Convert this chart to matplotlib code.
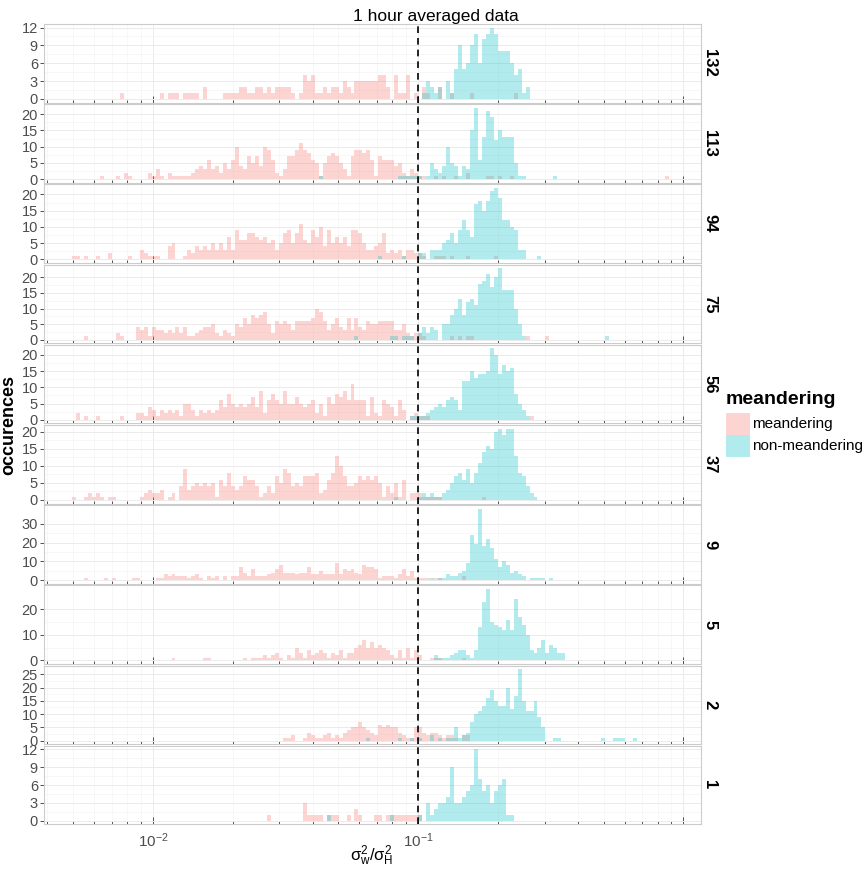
import numpy as np
import matplotlib
matplotlib.use('Agg')
import matplotlib.pyplot as plt
from matplotlib.patches import Rectangle
from matplotlib.ticker import LogLocator, NullFormatter

plt.rcParams['font.family'] = ['Liberation Sans', 'DejaVu Sans']
plt.rcParams['mathtext.fontset'] = 'custom'
plt.rcParams['mathtext.rm'] = 'Liberation Sans'
plt.rcParams['mathtext.it'] = 'Liberation Sans'

W, H = 866, 869

# histogram bins: width 0.015 in log10, bin index j counted from x = 0.1
bin_w = 0.015
bin_ref = -1.0

panels = ['132', '113', '94', '75', '56', '37', '9', '5', '2', '1']
ystep = [3, 5, 5, 5, 5, 5, 10, 10, 5, 3]

# counts, stored as runs: (first bin index, counts...)
mea_132 = [(-75, [1,0,0,0,0,0,0,0,0,0,1,0,1,1,1,0,1,1,1,1,0,2,0,0,0,0,1,1,1,1,2,2,1,1,2,2,1,2,1,
                  2,2,2,2,1,0,1,4,3,4,1,1,2,1,2,2,1,3,2,1,3,3,3,3,3,3,4,4,2,0,4,1,1,4,0,1]),
           (0, [0,2,1,0,0,2,0,0,1,0,0,0,0,1,0,0,0,0,0,0,0,0,0,0,1])]
non_132 = [(1, [1,3,2,1,2,0,3,1,5,9,5,6,9,11,6,10,11,12,11,8,8,8,6,4,5,1,2])]

mea_113 = [(-80, [1,0,0,0,1,0,2,1,0,0,0,0,2,1,3,1,0,2,1,1,1,1,1]),
           (-57, [2,3,4,3,6,3,4,2,5,3,6,10,4,3,7,5,7,4,10,9,6,2,1,3,7,7,9,11,9,8,
                  6,5,1,5,7,8,7,5,3,1,7,9,9,8,9,6,1,7,6,6,6,4,5,2,1,3,2]),
           (0, [1,1,0,0,1,0,1,0,0,1,0,0,2,0,0,0,0,1,1,0,1,0,0,1]),
           (62, [1])]
non_113 = [(-25, [1]), (-5, [1,1,1,1,1]),
           (0, [1,0,1,5,3,2,4,10,5,4,1,4,3,15,22,6,13,21,19,12,15,13,13,13,5,1,
                1,0,0,0,0,0,0,0,1])]

mea_94 = [(-87, [1,1,0,1,0,0,1,0,0,2,0,0,0,0,1,0,0,3,2,1,1,1,0,0,4,5,0,0,
                 1,3,2,4,3,4,3,5,3,5,3,7,3,9,6,6,8,8,7,6,7,5,6,3,5,8,9,5,8,11,
                 6,5,9,7,10,4,9,5,7,5,7,4,9,9,8,5,3,3,4,5,8,2,3,2,3,1,3,3,2]),
          (0, [2,1,0,0,1,1,1,0,1,0,0,0,1,0,0,0,0,0,0,1])]
non_94 = [(-10, [1]), (-4, [1]),
          (0, [2,2,0,3,3,3,5,6,8,5,9,12,9,7,17,18,15,18,21,22,19,12,12,10,9,3,3,0,0,0,1])]

mea_75 = [(-84, [1]), (-76, [2,1]),
          (-71, [4,3,4,1,4,3,3,2,3,2,4,2,4,1,1,2,3,4,4,5,2,1,3,2,1,5,4,7,5,8,
                 7,8,9,5,2,6,5,6,5,3,6,6,6,6,7,10,9,6,3,5,7,4,3,7,3,7,4,3,6,5,
                 5,6,6,6,6,3,3,5,2,1,2]),
          (0, [2,1,0,0,0,0,0,0,1,0,1,0,1,1]), (27, [1]), (32, [1])]
non_75 = [(-16, [1]), (-7, [1,1,0,1,1,1]),
          (0, [2,4,2,4,3,0,5,5,8,10,13,8,12,13,11,18,19,21,17,20,23,16,16,16,10,5,1]),
          (47, [1])]

mea_56 = [(-86, [2,0,1,0,0,1]), (-75, [1]),
          (-71, [2,2,1,4,3,1,3,2,3,2,3,1,5,5,3,1,3,2,3,2,3,6,4,8,5,4,5,4,5,7,
                 4,9,2,6,8,6,5,9,5,5,7,5,4,5,6,2,5,1,7,5,8,7,9,6,11,6,6,6,1,
                 7,2,1,6,5,4,1,6,3,0,1,2]),
          (0, [1,1,1]), (28, [1])]
non_56 = [(-2, [1,1]),
          (0, [1,1,2,3,4,5,4,6,7,6,3,12,12,15,13,14,14,15,22,20,14,17,15,16,8,5,3,1])]

mea_37 = [(-87, [1,0,0,1,2,1,2,1,0,1,1]),
          (-70, [1,2,3,2,2,3,0,1,2,0,4,9,3,4,5,4,5,4,5,1,6,4,8,4,3,4,7,6,6,4,
                 1,2,4,2,7,5,9,8,4,5,4,7,7,7,8,2,3,6,8,13,10,7,4,4,5,7,6,7,6,7,
                 5,1,4,2,5,1,6,0,2,2]),
          (0, [2,1,1,1,1,1]), (16, [1])]
non_37 = [(-6, [1]),
          (0, [1,2,1,2,1,1,2,3,5,7,8,6,9,5,8,11,14,16,15,20,21,19,21,21,13,8,7,4,2,1])]

mea_9 = [(-84, [1]), (-79, [1]), (-77, [1]), (-72, [1,1]),
         (-66, [1,1,3,2,3,2,2,2,1,2,3,1,0,2,1,2,0,2,0,2,2,7,4,2,6,2,2,2,3,4,
                6,8,4,4,4,3,4,4,7,3,3,5,3,3,3,9,3,6,5,6,4,3,8,7,7,6,1,2,2,2,
                1,3,6,2,5,1]),
         (0, [1,1,1,0,1,1,0,0,0,0,0,2])]
non_9 = [(0, [0,0,0,1,0,1,1,3,2,2,4,5,9,24,19,38,18,22,17,11,7,10,8,4,5,3,2,0,1,1,1,1,0,1])]

mea_5 = [(-62, [1]), (-54, [1,1]), (-44, [1]),
         (-42, [1,1,1,2,1,2,3,1,0,2,1,5,3,1,4,2,3,4,3,1,3,2,4,1,3,3,5,6,8,5,
                7,5,6,5,4,2,1,4,1,5,1,4]),
         (0, [2,0,0,1,1,1,0,0,0,0,0,1])]
non_5 = [(4, [2,1,1,1,2,3,4,4,2,1,4,13,23,28,15,14,13,12,16,12,24,17,14,10,4,3,5,8,3,6,5,3,3])]

mea_2 = [(-34, [1,1,2,0,0,1,3,2,1,1,2,3,1,2,1,3,4,5,5,7,5,4,3,2,6,5,6,5,5,3,2,1,1,5]),
         (0, [5,3,2,3,3,2,1,2,2,1,0,2,2])]
non_2 = [(-13, [1]), (-5, [1,0,0,1]),
         (0, [1,0,0,2,0,1,0,1,1,5,1,2,3,7,10,11,13,16,19,15,13,13,20,12,17,27,15,11,11,15,9,5]),
         (34, [1,1]), (46, [1]), (49, [1,1,1]), (54, [1])]

mea_1 = [(-38, [1]),
         (-29, [3,1,1,1,1,0,1,1,1,0,0,1,0,2,1,0,0,0,1,1,0,1,1,1,1,1,1,1,1,1])]
non_1 = [(-23, [1]), (-7, [1]),
         (0, [1,0,3,1,2,3,3,4,9,3,3,4,5,6,12,7,5,6,3,5,6,7,1,1])]

meandering = [mea_132, mea_113, mea_94, mea_75, mea_56, mea_37, mea_9, mea_5, mea_2, mea_1]
non_meandering = [non_132, non_113, non_94, non_75, non_56, non_37, non_9, non_5, non_2, non_1]

col_m = '#F8766D'
col_n = '#00BFC4'
alpha = 0.3

j_lo, j_hi = -95, 70
edges = 10 ** (bin_ref + bin_w * np.arange(j_lo, j_hi + 1))


def expand(runs):
    vals = np.zeros(j_hi - j_lo)
    for start, counts in runs:
        for i, c in enumerate(counts):
            vals[start + i - j_lo] = c
    return vals


def fx(x):
    return x / W


def fy(y):
    return 1 - y / H


fig = plt.figure(figsize=(W / 100, H / 100), dpi=100)

left, right = 44.2, 700.6
top0, pitch, ph = 24, 80.2, 78.5

for k, name in enumerate(panels):
    top = top0 + pitch * k
    ax = fig.add_axes([fx(left), fy(top + ph), fx(right - left), ph / H])
    vm = expand(meandering[k])
    vn = expand(non_meandering[k])
    ax.stairs(vm, edges, fill=True, color=col_m, alpha=alpha, lw=0, zorder=2)
    ax.stairs(vn, edges, fill=True, color=col_n, alpha=alpha, lw=0, zorder=2)
    ax.axvline(0.1, color='black', ls=(0, (4, 3)), lw=1.2, zorder=3)

    ax.set_xscale('log')
    ax.set_xticks([0.01, 0.1, 1])
    ax.xaxis.set_minor_locator(LogLocator(base=10, subs=np.arange(2, 10)))
    ax.xaxis.set_minor_formatter(NullFormatter())
    if k == len(panels) - 1:
        ax.set_xticklabels([r'$10^{-2}$', r'$10^{-1}$', ''])
    else:
        ax.set_xticklabels([])
    ax.set_xlim(10 ** -2.41, 10 ** 0.065)

    top_val = max(vm.max(), vn.max())
    step = ystep[k]
    ticks = np.arange(0, top_val + 0.01, step)
    ax.set_yticks(ticks)
    ax.set_yticks(ticks[:-1] + step / 2, minor=True)
    ax.set_yticklabels([str(int(t)) for t in ticks])
    ax.set_ylim(-0.05 * top_val, 1.05 * top_val)

    ax.grid(which='major', color='#EBEBEB', lw=0.7, zorder=0)
    ax.grid(which='minor', color='#F4F4F4', lw=0.5, zorder=0)
    ax.set_axisbelow(True)

    ax.tick_params(axis='y', which='major', length=3, width=0.6, color='#333333',
                   labelsize=10.5, labelcolor='#4D4D4D', pad=1.5)
    ax.tick_params(axis='y', which='minor', length=0)
    ax.tick_params(axis='x', which='major', direction='in', length=5, width=0.6,
                   color='#333333', labelsize=11, labelcolor='#4D4D4D', pad=5)
    ax.tick_params(axis='x', which='minor', direction='in', length=2.5, width=0.6,
                   color='#333333')
    for s in ax.spines.values():
        s.set_color('#CCCCCC')
        s.set_linewidth(0.8)

    fig.text(fx(710), fy(top + ph / 2), name, rotation=270, ha='center', va='center',
             fontsize=12, weight='bold')

fig.text(fx(436), fy(16), '1 hour averaged data', ha='center', va='center', fontsize=12.5)
fig.text(fx(372), fy(856), r'$\sigma_w^2/\sigma_H^2$', ha='center', va='center', fontsize=12)
fig.text(fx(9), fy(425), 'occurences', rotation=90, ha='center', va='center',
         fontsize=13, weight='bold')

# legend
fig.text(fx(726), fy(400), 'meandering', ha='left', va='center', fontsize=14, weight='bold')
for i, (lab, col) in enumerate([('meandering', col_m), ('non-meandering', col_n)]):
    y0 = 413 + 22 * i
    fig.add_artist(Rectangle((fx(726), fy(y0 + 22)), 24 / W, 22 / H, transform=fig.transFigure,
                             facecolor=col, alpha=alpha, lw=0))
    fig.text(fx(752), fy(y0 + 11), lab, ha='left', va='center', fontsize=11)

fig.savefig('out.png', dpi=100)
